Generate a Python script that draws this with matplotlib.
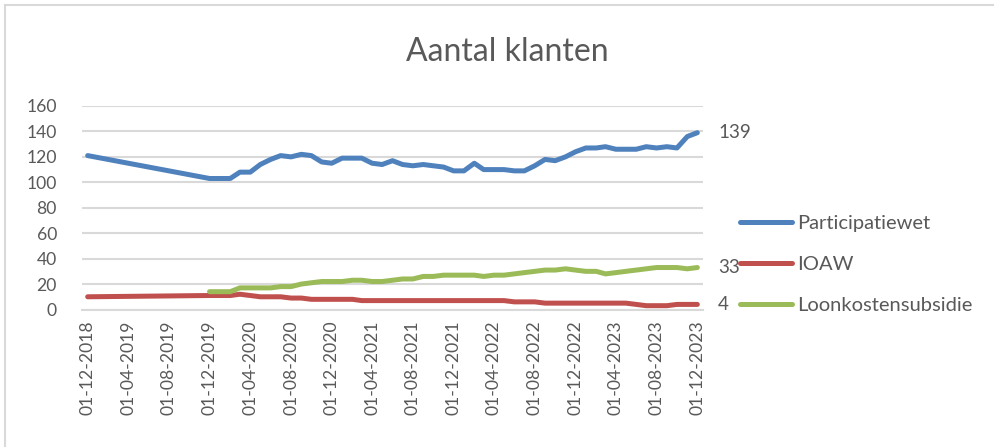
import matplotlib
matplotlib.use("Agg")
import matplotlib.pyplot as plt
import matplotlib.dates as mdates
from matplotlib.lines import Line2D
import pandas as pd

# Reporting dates: December 2018, then monthly from December 2019
dates = [pd.Timestamp("2018-12-01")] + list(pd.date_range("2019-12-01", "2023-12-01", freq="MS"))

participatiewet = [121,
                   103, 103, 103, 108, 108, 114, 118, 121, 120, 122, 121, 116, 115,
                   119, 119, 119, 115, 114, 117, 114, 113, 114, 113, 112, 109,
                   109, 115, 110, 110, 110, 109, 109, 113, 118, 117, 120, 124,
                   127, 127, 128, 126, 126, 126, 128, 127, 128, 127, 136, 139]

ioaw = [10,
        11, 11, 11, 12, 11, 10, 10, 10, 9, 9, 8, 8, 8,
        8, 8, 7, 7, 7, 7, 7, 7, 7, 7, 7, 7,
        7, 7, 7, 7, 7, 6, 6, 6, 5, 5, 5, 5,
        5, 5, 5, 5, 5, 4, 3, 3, 3, 4, 4, 4]

# Loonkostensubsidie is reported from December 2019 onwards
lks_dates = dates[1:]
loonkostensubsidie = [14,
                      14, 14, 17, 17, 17, 17, 18, 18, 20, 21, 22, 22,
                      22, 23, 23, 22, 22, 23, 24, 24, 26, 26, 27, 27,
                      27, 27, 26, 27, 27, 28, 29, 30, 31, 31, 32, 31,
                      30, 30, 28, 29, 30, 31, 32, 33, 33, 33, 32, 33]

series_names = ["Participatiewet", "IOAW", "Loonkostensubsidie"]
colors = ["#4F81BD", "#C0504D", "#9BBB59"]
title = "Aantal klanten"
y_ticks = list(range(0, 161, 20))
x_ticks = pd.date_range("2018-12-01", "2023-12-01", freq="4MS")

plt.rcParams["font.family"] = ["Lato", "DejaVu Sans"]
text_color = "#595959"

fig = plt.figure(figsize=(9.95, 4.47), dpi=100)
ax = fig.add_axes([82 / 995, 137.5 / 447, 621 / 995, 203.5 / 447])

lw = 3.6
ax.plot(dates, participatiewet, color=colors[0], lw=lw, solid_capstyle="round", solid_joinstyle="round", zorder=3)
ax.plot(dates, ioaw, color=colors[1], lw=lw, solid_capstyle="round", solid_joinstyle="round", zorder=3)
ax.plot(lks_dates, loonkostensubsidie, color=colors[2], lw=lw, solid_capstyle="round", solid_joinstyle="round", zorder=3)

# Value labels at the last data point of each series
for d, vals in [(dates, participatiewet), (lks_dates, loonkostensubsidie), (dates, ioaw)]:
    ax.annotate(f"{vals[-1]}", xy=(d[-1], vals[-1]), xytext=(15, 0), textcoords="offset points",
                va="center", ha="left", fontsize=13.5, color=text_color, annotation_clip=False)

ax.set_ylim(0, 160)
ax.set_yticks(y_ticks)
pad = pd.Timedelta(days=17)
ax.set_xlim(dates[0] - pad, dates[-1] + pad)
ax.set_xticks(x_ticks)
ax.xaxis.set_major_formatter(mdates.DateFormatter("%d-%m-%Y"))
for lbl in ax.get_xticklabels():
    lbl.set_rotation(90)

ax.grid(axis="y", color="#D9D9D9", lw=1.5, zorder=0)
ax.set_axisbelow(True)
for s in ["top", "right", "left"]:
    ax.spines[s].set_visible(False)
ax.spines["bottom"].set_color("#D9D9D9")
ax.spines["bottom"].set_linewidth(1.5)
ax.tick_params(axis="both", length=0, labelsize=12.6, labelcolor=text_color)
ax.tick_params(axis="y", pad=18)
ax.tick_params(axis="x", pad=8)

fig.text(507 / 995, 1 - 52 / 447, title, ha="center", va="center", fontsize=23, color=text_color)

handles = [Line2D([0], [0], color=c, lw=lw, solid_capstyle="round") for c in colors]
fig.legend(handles, series_names, loc="center left", bbox_to_anchor=(740 / 995, 1 - 264.5 / 447),
           frameon=False, fontsize=14.5, handlelength=2.6, handletextpad=0.25, labelspacing=1.2,
           borderpad=0, borderaxespad=0, labelcolor=text_color)

# Chart frame edges along the top and left
fig.add_artist(Line2D([5 / 995, 5 / 995], [0, 1 - 5 / 447], transform=fig.transFigure, color="#D9D9D9", lw=1.5))
fig.add_artist(Line2D([5 / 995, 1], [1 - 5 / 447, 1 - 5 / 447], transform=fig.transFigure, color="#D9D9D9", lw=1.5))

fig.savefig("out.png", dpi=100, facecolor="white")
